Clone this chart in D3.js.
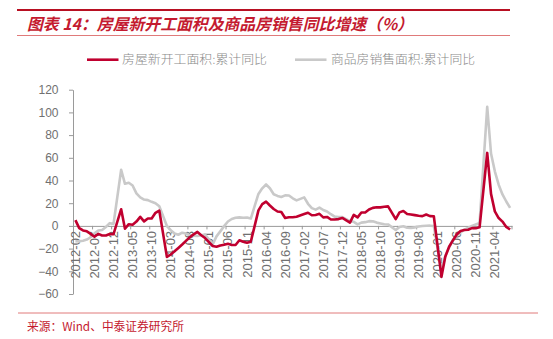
<!DOCTYPE html>
<html>
<head>
<meta charset="utf-8">
<script src="https://cdn.jsdelivr.net/npm/d3@7"></script>
<style>
  html, body { margin: 0; padding: 0; background: #fff; }
  svg { display: block; }
  .tick text { font-family: "Liberation Sans", Arial, sans-serif; fill: #707070; }
</style>
</head>
<body>
<svg id="chart" width="553" height="339"></svg>
<script>
// Monthly cumulative YoY growth (%), 2012-02 .. 2021-08; January is not published (null).
const startsYoY = [
  /* 2012 */ 5.1, -2.0, -4.0, -4.8, -7.0, -9.5, -7.0, -8.5, -8.5, -7.2, -7.3,
  /* 2013 */ null, 14.7, -2.5, 1.5, 1.0, 3.8, 8.0, 4.0, 6.5, 6.5, 11.5, 13.5,
  /* 2014 */ null, -27.4, -25.2, -22.4, -19.4, -16.4, -13.2, -10.0, -7.5, -5.3, -8.2, -10.7,
  /* 2015 */ null, -17.7, -18.4, -17.3, -16.6, -15.8, -16.8, -16.8, -12.6, -13.9, -14.9, -14.0,
  /* 2016 */ null, 13.7, 19.2, 21.4, 18.0, 14.9, 12.7, 12.2, 7.0, 7.6, 7.6, 8.1,
  /* 2017 */ null, 10.4, 11.6, 9.4, 9.6, 10.6, 7.5, 7.9, 5.6, 5.6, 6.0, 7.0,
  /* 2018 */ null, 2.9, 9.7, 7.5, 11.8, 11.8, 14.4, 15.9, 16.4, 16.3, 16.8, 17.2,
  /* 2019 */ null, 6.0, 11.9, 13.1, 10.5, 10.1, 9.5, 8.9, 8.6, 10.0, 8.6, 8.5,
  /* 2020 */ null, -44.9, -27.2, -18.4, -12.8, -7.6, -4.5, -3.6, -3.4, -2.0, -2.0, -1.2,
  /* 2021 */ null, 64.3, 28.2, 12.8, 6.9, 3.8, -0.9, -3.2
];
const salesYoY = [
  /* 2012 */ -13.5, -13.6, -13.0, -12.0, -10.0, -6.5, -4.1, -3.6, -1.0, 2.4, 1.8,
  /* 2013 */ null, 49.5, 37.1, 38.0, 35.6, 28.7, 25.2, 23.2, 22.7, 21.2, 20.0, 17.3,
  /* 2014 */ null, -0.1, -3.8, -6.7, -7.8, -6.0, -6.7, -8.3, -8.6, -8.9, -8.2, -7.6,
  /* 2015 */ null, -16.3, -9.2, -4.8, -0.2, 3.9, 6.1, 7.2, 7.5, 7.2, 7.4, 6.5,
  /* 2016 */ null, 28.2, 33.1, 36.5, 33.2, 27.9, 26.4, 25.5, 26.9, 26.8, 24.3, 22.5,
  /* 2017 */ null, 25.1, 19.5, 15.7, 14.3, 16.1, 14.0, 12.7, 10.3, 8.2, 7.9, 7.7,
  /* 2018 */ null, 4.1, 3.6, 1.3, 2.9, 3.3, 4.2, 4.0, 2.9, 2.2, 1.4, 1.3,
  /* 2019 */ null, -3.6, -0.9, -0.3, -1.6, -1.8, -1.3, -0.6, -0.1, 0.1, 0.2, -0.1,
  /* 2020 */ null, -39.9, -26.3, -19.3, -12.3, -8.4, -5.8, -3.3, -1.8, 0.0, 1.3, 2.6,
  /* 2021 */ null, 104.9, 63.8, 48.1, 36.3, 27.7, 21.5, 15.9
];
const seriesNames = ["房屋新开工面积:累计同比", "商品房销售面积:累计同比"];
const yTicks = [-60, -40, -20, 0, 20, 40, 60, 80, 100, 120];
const titleText = "图表 14：房屋新开工面积及商品房销售同比增速（%）";
const sourceText = "来源：Wind、中泰证券研究所";

// Month categories 2012-02 .. 2021-08
const months = [];
for (let y = 2012, m = 2; y < 2021 || (y === 2021 && m <= 8); ) {
  months.push(`${y}-${String(m).padStart(2, "0")}`);
  if (++m > 12) { m = 1; y++; }
}

const RED = "#C0002F";
const GREY = "#C9C9C9";

const svg = d3.select("#chart");

// Header rules and title
svg.append("line").attr("x1", 17).attr("x2", 510).attr("y1", 10).attr("y2", 10)
  .attr("stroke", "#B80F22").attr("stroke-width", 2.2);
svg.append("text").attr("x", 27).attr("y", 30)
  .attr("font-family", "'Noto Sans CJK SC', sans-serif").attr("font-size", 16)
  .attr("font-weight", "bold").attr("font-style", "italic").attr("fill", "#C41A2F")
  .attr("textLength", 386).attr("lengthAdjust", "spacingAndGlyphs")
  .text(titleText);
svg.append("line").attr("x1", 17).attr("x2", 510).attr("y1", 35.5).attr("y2", 35.5)
  .attr("stroke", "#E07A7A").attr("stroke-width", 1);

// Scales
const x = d3.scaleBand().domain(months).range([73.5, 512]).padding(0);
const cx = m => x(m) + x.bandwidth() / 2;
const y = d3.scaleLinear().domain([-60, 120]).range([294, 89.7]);

// Y axis
const yAxis = svg.append("g").attr("transform", "translate(73,0)")
  .call(d3.axisLeft(y).tickValues(yTicks).tickSize(4).tickPadding(10.5).tickSizeOuter(0));
yAxis.select(".domain").attr("stroke", "#9a9a9a");
yAxis.selectAll(".tick line").attr("stroke", "#9a9a9a");
yAxis.selectAll(".tick text").attr("font-size", 12);

// X axis along zero
const labelMonths = months.filter((_, i) => i % 5 === 0);
const xAxis = svg.append("g").attr("transform", `translate(0,${y(0)})`)
  .call(d3.axisBottom(x).tickValues(labelMonths).tickSize(0).tickSizeOuter(0));
xAxis.select(".domain").attr("stroke", "#9a9a9a");
xAxis.selectAll(".tick text")
  .attr("font-size", 13)
  .attr("text-anchor", "end")
  .attr("transform", "translate(0,5) rotate(-90)")
  .attr("x", 0).attr("y", 0).attr("dy", "0.35em");
// Tick marks on category boundaries every 5 months
const boundaryX = labelMonths.map(m => x(m)).concat([x.range()[1]]);
xAxis.selectAll(".bound").data(boundaryX).join("line").attr("class", "bound")
  .attr("x1", d => d).attr("x2", d => d).attr("y1", 0).attr("y2", 3.5)
  .attr("stroke", "#9a9a9a");

// Lines (gaps for missing January values are bridged)
const line = d3.line().x(d => cx(d.m)).y(d => y(d.v));
const toPoints = arr => arr.map((v, i) => ({ m: months[i], v })).filter(d => d.v !== null);

svg.append("path").datum(toPoints(salesYoY)).attr("d", line)
  .attr("fill", "none").attr("stroke", GREY).attr("stroke-width", 2.6)
  .attr("stroke-linejoin", "round");
svg.append("path").datum(toPoints(startsYoY)).attr("d", line)
  .attr("fill", "none").attr("stroke", RED).attr("stroke-width", 2.6)
  .attr("stroke-linejoin", "round");

// Legend
const legend = [
  { name: seriesNames[0], color: RED, x0: 87, tx: 122, tl: 145 },
  { name: seriesNames[1], color: GREY, x0: 295, tx: 331, tl: 144 }
];
legend.forEach(l => {
  svg.append("line").attr("x1", l.x0).attr("x2", l.x0 + 31.5).attr("y1", 59.7).attr("y2", 59.7)
    .attr("stroke", l.color).attr("stroke-width", 2.6);
  svg.append("text").attr("x", l.tx).attr("y", 64)
    .attr("font-family", "'Noto Sans CJK SC', sans-serif").attr("font-size", 12)
    .attr("font-weight", 300)
    .attr("fill", "#8a8a8a").attr("textLength", l.tl).attr("lengthAdjust", "spacingAndGlyphs")
    .text(l.name);
});

// Footer
svg.append("line").attr("x1", 18).attr("x2", 538).attr("y1", 313).attr("y2", 313)
  .attr("stroke", "#E07A7A").attr("stroke-width", 1);
svg.append("text").attr("x", 27).attr("y", 331)
  .attr("font-family", "'Noto Sans CJK SC', sans-serif").attr("font-size", 12)
  .attr("fill", "#C41A2F").attr("textLength", 157).attr("lengthAdjust", "spacingAndGlyphs")
  .text(sourceText);
</script>
</body>
</html>
